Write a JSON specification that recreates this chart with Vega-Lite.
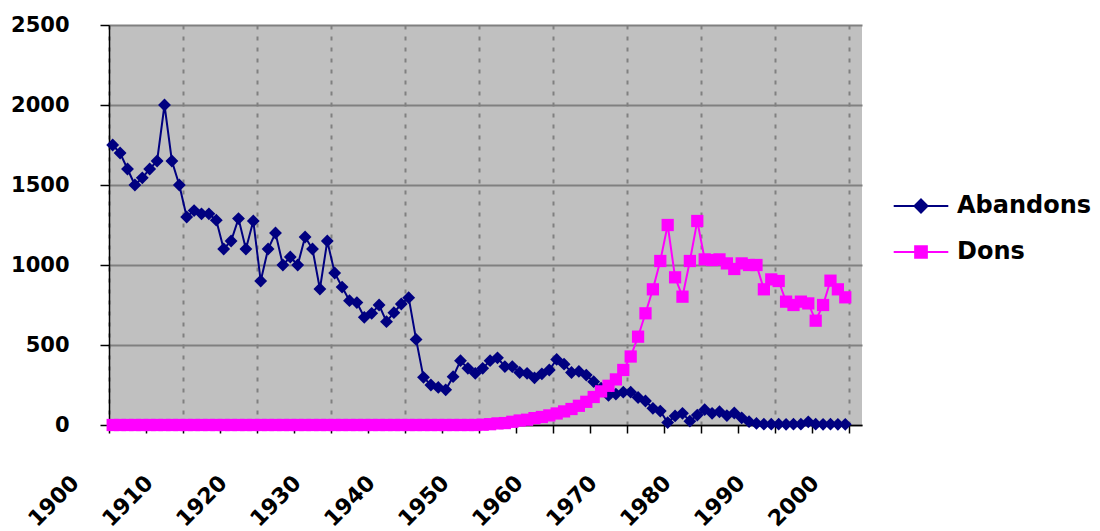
{
  "$schema": "https://vega.github.io/schema/vega-lite/v6.json",
  "width": 753,
  "height": 400,
  "autosize": "none",
  "padding": {"left": 109, "top": 25, "right": 238, "bottom": 106},
  "background": "white",
  "config": {"view": {"fill": "#C0C0C0", "stroke": null}, "font": "DejaVu Sans"},
  "data": {"values": [
    {"year":1900,"Abandons":1750,"Dons":0},{"year":1901,"Abandons":1700,"Dons":0},{"year":1902,"Abandons":1600,"Dons":0},{"year":1903,"Abandons":1500,"Dons":0},{"year":1904,"Abandons":1545,"Dons":0},
    {"year":1905,"Abandons":1600,"Dons":0},{"year":1906,"Abandons":1650,"Dons":0},{"year":1907,"Abandons":2000,"Dons":0},{"year":1908,"Abandons":1650,"Dons":0},{"year":1909,"Abandons":1500,"Dons":0},
    {"year":1910,"Abandons":1300,"Dons":0},{"year":1911,"Abandons":1340,"Dons":0},{"year":1912,"Abandons":1320,"Dons":0},{"year":1913,"Abandons":1320,"Dons":0},{"year":1914,"Abandons":1280,"Dons":0},
    {"year":1915,"Abandons":1100,"Dons":0},{"year":1916,"Abandons":1150,"Dons":0},{"year":1917,"Abandons":1290,"Dons":0},{"year":1918,"Abandons":1100,"Dons":0},{"year":1919,"Abandons":1275,"Dons":0},
    {"year":1920,"Abandons":900,"Dons":0},{"year":1921,"Abandons":1100,"Dons":0},{"year":1922,"Abandons":1200,"Dons":0},{"year":1923,"Abandons":1000,"Dons":0},{"year":1924,"Abandons":1050,"Dons":0},
    {"year":1925,"Abandons":1000,"Dons":0},{"year":1926,"Abandons":1175,"Dons":0},{"year":1927,"Abandons":1100,"Dons":0},{"year":1928,"Abandons":850,"Dons":0},{"year":1929,"Abandons":1150,"Dons":0},
    {"year":1930,"Abandons":950,"Dons":0},{"year":1931,"Abandons":862,"Dons":0},{"year":1932,"Abandons":777,"Dons":0},{"year":1933,"Abandons":765,"Dons":0},{"year":1934,"Abandons":673,"Dons":0},
    {"year":1935,"Abandons":698,"Dons":0},{"year":1936,"Abandons":750,"Dons":0},{"year":1937,"Abandons":646,"Dons":0},{"year":1938,"Abandons":702,"Dons":0},{"year":1939,"Abandons":756,"Dons":0},
    {"year":1940,"Abandons":796,"Dons":0},{"year":1941,"Abandons":535,"Dons":0},{"year":1942,"Abandons":298,"Dons":0},{"year":1943,"Abandons":250,"Dons":0},{"year":1944,"Abandons":235,"Dons":0},
    {"year":1945,"Abandons":220,"Dons":0},{"year":1946,"Abandons":302,"Dons":0},{"year":1947,"Abandons":402,"Dons":0},{"year":1948,"Abandons":354,"Dons":0},{"year":1949,"Abandons":323,"Dons":0},
    {"year":1950,"Abandons":354,"Dons":2},{"year":1951,"Abandons":402,"Dons":5},{"year":1952,"Abandons":420,"Dons":10},{"year":1953,"Abandons":365,"Dons":12},{"year":1954,"Abandons":365,"Dons":20},
    {"year":1955,"Abandons":328,"Dons":28},{"year":1956,"Abandons":323,"Dons":33},{"year":1957,"Abandons":295,"Dons":43},{"year":1958,"Abandons":320,"Dons":50},{"year":1959,"Abandons":344,"Dons":60},
    {"year":1960,"Abandons":410,"Dons":72},{"year":1961,"Abandons":380,"Dons":85},{"year":1962,"Abandons":328,"Dons":100},{"year":1963,"Abandons":335,"Dons":120},{"year":1964,"Abandons":312,"Dons":145},
    {"year":1965,"Abandons":271,"Dons":175},{"year":1966,"Abandons":230,"Dons":210},{"year":1967,"Abandons":185,"Dons":245},{"year":1968,"Abandons":193,"Dons":285},{"year":1969,"Abandons":205,"Dons":344},
    {"year":1970,"Abandons":205,"Dons":428},{"year":1971,"Abandons":172,"Dons":552},{"year":1972,"Abandons":150,"Dons":698},{"year":1973,"Abandons":104,"Dons":848},{"year":1974,"Abandons":87,"Dons":1025},
    {"year":1975,"Abandons":15,"Dons":1250},{"year":1976,"Abandons":57,"Dons":923},{"year":1977,"Abandons":73,"Dons":802},{"year":1978,"Abandons":24,"Dons":1025},{"year":1979,"Abandons":62,"Dons":1275},
    {"year":1980,"Abandons":96,"Dons":1035},{"year":1981,"Abandons":73,"Dons":1031},{"year":1982,"Abandons":83,"Dons":1035},{"year":1983,"Abandons":59,"Dons":1010},{"year":1984,"Abandons":75,"Dons":975},
    {"year":1985,"Abandons":45,"Dons":1010},{"year":1986,"Abandons":21,"Dons":1000},{"year":1987,"Abandons":10,"Dons":1000},{"year":1988,"Abandons":5,"Dons":848},{"year":1989,"Abandons":5,"Dons":910},
    {"year":1990,"Abandons":5,"Dons":900},{"year":1991,"Abandons":4,"Dons":771},{"year":1992,"Abandons":5,"Dons":750},{"year":1993,"Abandons":5,"Dons":771},{"year":1994,"Abandons":20,"Dons":760},
    {"year":1995,"Abandons":5,"Dons":652},{"year":1996,"Abandons":4,"Dons":750},{"year":1997,"Abandons":5,"Dons":902},{"year":1998,"Abandons":4,"Dons":848},{"year":1999,"Abandons":4,"Dons":798}
  ]},
  "transform": [{"fold": ["Abandons", "Dons"], "as": ["series", "value"]}],
  "encoding": {
    "x": {
      "field": "year", "type": "quantitative",
      "scale": {"domain": [1900, 2001.76], "nice": false, "zero": false},
      "axis": {
        "title": null,
        "values": [1900,1905,1910,1915,1920,1925,1930,1935,1940,1945,1950,1955,1960,1965,1970,1975,1980,1985,1990,1995,2000],
        "format": "d",
        "labelExpr": "datum.value % 10 === 0 ? datum.label : ''",
        "grid": true, "gridColor": "#808080", "gridWidth": 2, "gridDash": [4, 7],
        "gridOpacity": {"condition": {"test": "datum.value % 10 !== 0", "value": 0}, "value": 1},
        "domainColor": "black", "domainWidth": 1.5,
        "tickColor": "black", "tickSize": 8, "tickWidth": 1.5,
        "labelAngle": -45, "labelFont": "DejaVu Sans", "labelFontWeight": "bold", "labelFontSize": 22, "labelColor": "black",
        "labelAlign": "right", "labelBaseline": "middle",
        "labelPadding": 46, "labelOffset": -34, "labelOverlap": false, "labelBound": false, "labelFlush": false
      }
    },
    "y": {
      "field": "value", "type": "quantitative",
      "scale": {"domain": [0, 2500], "nice": false},
      "axis": {
        "title": null, "values": [0, 500, 1000, 1500, 2000, 2500], "format": "d",
        "grid": true, "gridColor": "#808080", "gridWidth": 2,
        "domainColor": "black", "domainWidth": 1.5,
        "tickColor": "black", "tickSize": 9, "tickWidth": 1.5,
        "labelFont": "DejaVu Sans", "labelFontWeight": "bold", "labelFontSize": 21, "labelColor": "black",
        "labelPadding": 31
      }
    }
  },
  "layer": [
    {
      "transform": [{"filter": "datum.series === 'Abandons'"}],
      "mark": {"type": "line", "strokeWidth": 2, "xOffset": 3.7, "color": "#000080"}
    },
    {
      "transform": [{"filter": "datum.series === 'Abandons'"}],
      "mark": {"type": "point", "filled": true, "opacity": 1, "size": 165, "shape": "diamond", "xOffset": 3.7, "color": "#000080"}
    },
    {
      "transform": [{"filter": "datum.series === 'Dons'"}],
      "mark": {"type": "line", "strokeWidth": 2, "xOffset": 3.7, "color": "#FF00FF"}
    },
    {
      "transform": [{"filter": "datum.series === 'Dons'"}],
      "mark": {"type": "point", "filled": true, "opacity": 1, "size": 150, "shape": "square", "xOffset": 3.7, "color": "#FF00FF"}
    },
    {
      "mark": {"type": "point", "size": 0, "strokeWidth": 2, "opacity": 1},
      "encoding": {
        "fill": {"field": "series", "type": "nominal", "scale": {"domain": ["Abandons", "Dons"], "range": ["#000080", "#FF00FF"]},
          "legend": {"title": null, "orient": "none", "legendX": 800, "legendY": 169, "padding": 0, "labelFont": "DejaVu Sans", "labelFontWeight": "bold", "labelFontSize": 24, "labelColor": "black", "symbolSize": 169, "symbolStrokeWidth": 2, "labelOffset": 24, "rowPadding": 22}},
        "stroke": {"field": "series", "type": "nominal", "scale": {"domain": ["Abandons", "Dons"], "range": ["#000080", "#FF00FF"]},
          "legend": {"title": null, "orient": "none", "legendX": 800, "legendY": 169, "padding": 0, "labelFont": "DejaVu Sans", "labelFontWeight": "bold", "labelFontSize": 24, "labelColor": "black", "symbolSize": 169, "symbolStrokeWidth": 2, "labelOffset": 24, "rowPadding": 22}},
        "shape": {"field": "series", "type": "nominal", "scale": {"domain": ["Abandons", "Dons"], "range": ["M-4.2,0L4.2,0M0,-1L1,0L0,1L-1,0Z", "M-4.2,0L4.2,0M-0.9,-0.9L0.9,-0.9L0.9,0.9L-0.9,0.9Z"]},
          "legend": {"title": null, "orient": "none", "legendX": 800, "legendY": 169, "padding": 0, "labelFont": "DejaVu Sans", "labelFontWeight": "bold", "labelFontSize": 24, "labelColor": "black", "symbolSize": 169, "symbolStrokeWidth": 2, "labelOffset": 24, "rowPadding": 22}}
      }
    }
  ]
}
